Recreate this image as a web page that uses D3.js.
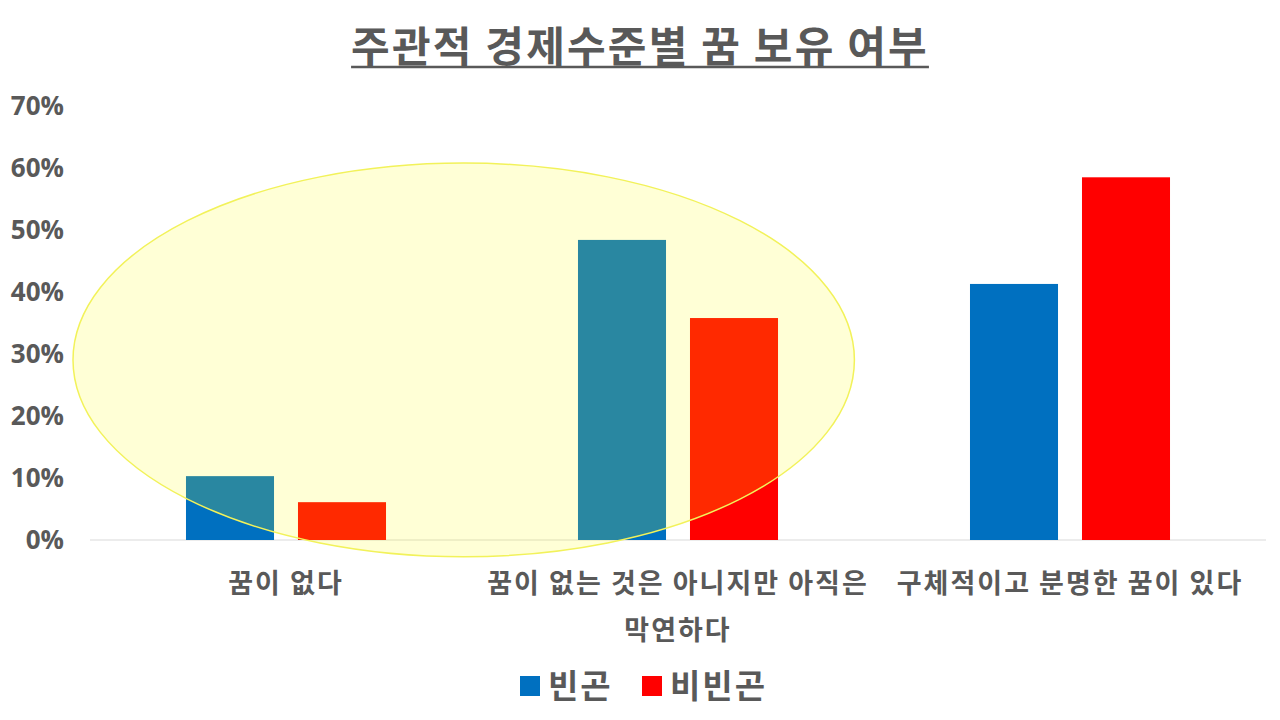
<!DOCTYPE html>
<html>
<head>
<meta charset="utf-8">
<script src="https://cdn.jsdelivr.net/npm/d3@7"></script>
<style>
  body { margin: 0; background: #fff; }
  text { font-family: "Noto Sans CJK KR", "Noto Sans", sans-serif; fill: #595959; font-weight: bold; }
</style>
</head>
<body>
<svg id="chart" width="1280" height="720"></svg>
<script>
// data
const categories = ['꿈이 없다', '꿈이 없는 것은 아니지만 아직은 막연하다', '구체적이고 분명한 꿈이 있다'];
const seriesNames = ['빈곤', '비빈곤'];
const poorValues = [10.3, 48.4, 41.3];
const nonPoorValues = [6.1, 35.8, 58.5];
const yTicks = [0, 10, 20, 30, 40, 50, 60, 70];
const colors = ['#0070C0', '#FF0000'];

const svg = d3.select('#chart');
const width = 1280, height = 720;
const margin = { top: 106, right: 14, bottom: 180, left: 90 };

const x = d3.scaleBand()
  .domain(categories)
  .range([margin.left, width - margin.right]);

const xInner = d3.scaleBand()
  .domain(seriesNames)
  .range([0, x.bandwidth()])
  .paddingInner(0.214)
  .paddingOuter(0.857);

const y = d3.scaleLinear()
  .domain([0, 70])
  .range([height - margin.bottom, margin.top]);

// title
const title = svg.append('text')
  .attr('x', 640)
  .attr('y', 62)
  .attr('text-anchor', 'middle')
  .style('font-size', '42px')
  .style('letter-spacing', '2.2px')
  .text('주관적 경제수준별 꿈 보유 여부');
const tb = title.node().getBBox();
svg.append('line')
  .attr('x1', tb.x).attr('x2', tb.x + tb.width)
  .attr('y1', 67).attr('y2', 67)
  .attr('stroke', '#595959').attr('stroke-width', 2.5);

// y axis labels
const yAxis = svg.append('g')
  .attr('transform', `translate(${margin.left - 26},0)`)
  .call(d3.axisLeft(y).tickValues(yTicks).tickFormat(d => d + '%').tickSize(0));
yAxis.select('.domain').remove();
yAxis.selectAll('text')
  .attr('x', 0)
  .style('font-size', '26px')
  .style('font-family', '"Open Sans", "Noto Sans", sans-serif')
  .attr('fill', '#595959');

// baseline
svg.append('line')
  .attr('x1', margin.left).attr('x2', width - margin.right)
  .attr('y1', y(0)).attr('y2', y(0))
  .attr('stroke', '#D9D9D9').attr('stroke-width', 1);

// bars
const rows = categories.map((c, i) => ({ cat: c, values: [poorValues[i], nonPoorValues[i]] }));
const groups = svg.selectAll('.grp')
  .data(rows)
  .enter()
  .append('g')
  .attr('class', 'grp')
  .attr('transform', d => `translate(${x(d.cat)},0)`);

groups.selectAll('rect')
  .data(d => d.values.map((v, j) => ({ name: seriesNames[j], v: v, j: j })))
  .enter()
  .append('rect')
  .attr('x', d => xInner(d.name))
  .attr('width', xInner.bandwidth())
  .attr('y', d => y(d.v))
  .attr('height', d => y(0) - y(d.v))
  .style('fill', d => colors[d.j]);

// x labels with wrapping
function wrap(textSel, w) {
  textSel.each(function () {
    const t = d3.select(this);
    const words = t.text().split(' ');
    t.text(null);
    let line = [];
    let tspan = t.append('tspan').attr('x', 0).attr('dy', 0);
    words.forEach(word => {
      line.push(word);
      tspan.text(line.join(' '));
      if (tspan.node().getComputedTextLength() > w && line.length > 1) {
        line.pop();
        tspan.text(line.join(' '));
        line = [word];
        tspan = t.append('tspan').attr('x', 0).attr('dy', '1.75em').text(word);
      }
    });
  });
}

svg.selectAll('.xlab')
  .data(categories)
  .enter()
  .append('g')
  .attr('class', 'xlab')
  .attr('transform', d => `translate(${x(d) + x.bandwidth() / 2},${y(0) + 53})`)
  .append('text')
  .attr('text-anchor', 'middle')
  .style('font-size', '27px')
  .style('letter-spacing', '2px')
  .text(d => d)
  .call(wrap, x.bandwidth() - 4);

// highlight ellipse over the first two categories
const ellLeft = x(categories[0]) - 17;
const ellRight = x(categories[1]) + x.bandwidth() * 0.95;
const ellTop = y(60.8), ellBottom = y(-2.7);
svg.append('ellipse')
  .attr('cx', (ellLeft + ellRight) / 2)
  .attr('cy', (ellTop + ellBottom) / 2)
  .attr('rx', (ellRight - ellLeft) / 2)
  .attr('ry', (ellBottom - ellTop) / 2)
  .style('fill', '#FFFF00')
  .style('fill-opacity', 0.16)
  .style('stroke', '#F2F25A')
  .style('stroke-width', 1.5);

// legend
const legend = svg.append('g').attr('transform', 'translate(520,676)');
const legendX = [0, 122];
seriesNames.forEach((name, i) => {
  const g = legend.append('g').attr('transform', `translate(${legendX[i]},0)`);
  g.append('rect').attr('width', 20).attr('height', 20).style('fill', colors[i]);
  g.append('text')
    .attr('x', 28)
    .attr('y', 22)
    .style('font-size', '33px')
    .style('letter-spacing', '2px')
    .text(name);
});
</script>
</body>
</html>
